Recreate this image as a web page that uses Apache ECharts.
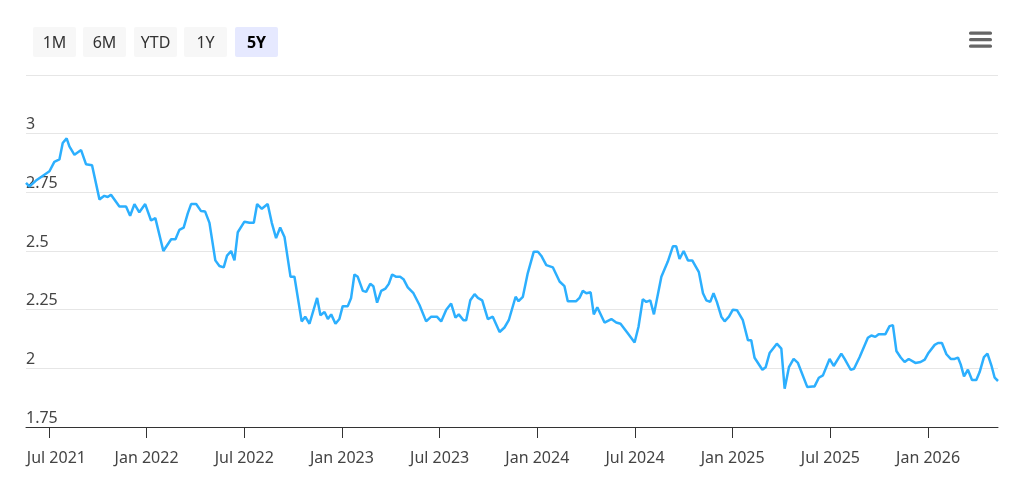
<!DOCTYPE html>
<html>
<head>
<meta charset="utf-8">
<title>5Y chart</title>
<script src="https://cdn.jsdelivr.net/npm/echarts@6/dist/echarts.min.js"></script>
<style>
  html, body { margin: 0; padding: 0; background: #fff; }
  #chart { width: 1019px; height: 492px; }
</style>
</head>
<body>
<div id="chart"></div>
<script>
// time in decimal years
const years = [
  2021.383, 2021.400, 2021.434, 2021.468, 2021.503, 2021.528, 2021.554, 2021.571, 2021.591, 2021.605,
  2021.631, 2021.665, 2021.690, 2021.721, 2021.759, 2021.784, 2021.801, 2021.818, 2021.861, 2021.895,
  2021.916, 2021.938, 2021.963, 2021.993, 2022.023, 2022.045, 2022.086, 2022.126, 2022.148, 2022.168,
  2022.190, 2022.211, 2022.228, 2022.254, 2022.279, 2022.300, 2022.322, 2022.352, 2022.373, 2022.395,
  2022.412, 2022.433, 2022.450, 2022.467, 2022.501, 2022.527, 2022.549, 2022.566, 2022.590, 2022.620,
  2022.641, 2022.663, 2022.684, 2022.706, 2022.737, 2022.757, 2022.794, 2022.812, 2022.834, 2022.873,
  2022.890, 2022.911, 2022.928, 2022.945, 2022.967, 2022.987, 2023.004, 2023.030, 2023.047, 2023.064,
  2023.081, 2023.107, 2023.124, 2023.145, 2023.161, 2023.180, 2023.201, 2023.223, 2023.240, 2023.257,
  2023.278, 2023.298, 2023.315, 2023.337, 2023.366, 2023.397, 2023.431, 2023.457, 2023.486, 2023.508,
  2023.534, 2023.559, 2023.581, 2023.598, 2023.622, 2023.636, 2023.657, 2023.679, 2023.696, 2023.718,
  2023.747, 2023.772, 2023.807, 2023.832, 2023.854, 2023.889, 2023.904, 2023.926, 2023.951, 2023.982,
  2024.003, 2024.020, 2024.046, 2024.080, 2024.114, 2024.139, 2024.156, 2024.199, 2024.216, 2024.233,
  2024.251, 2024.273, 2024.289, 2024.307, 2024.344, 2024.379, 2024.404, 2024.426, 2024.464, 2024.498,
  2024.518, 2024.540, 2024.558, 2024.578, 2024.597, 2024.635, 2024.668, 2024.694, 2024.711, 2024.728,
  2024.749, 2024.771, 2024.793, 2024.827, 2024.848, 2024.865, 2024.885, 2024.902, 2024.919, 2024.942,
  2024.959, 2024.981, 2025.001, 2025.022, 2025.052, 2025.078, 2025.095, 2025.112, 2025.152, 2025.169,
  2025.189, 2025.226, 2025.249, 2025.266, 2025.288, 2025.312, 2025.334, 2025.382, 2025.408, 2025.419,
  2025.441, 2025.462, 2025.496, 2025.517, 2025.556, 2025.573, 2025.604, 2025.621, 2025.650, 2025.692,
  2025.710, 2025.730, 2025.747, 2025.781, 2025.803, 2025.820, 2025.838, 2025.860, 2025.880, 2025.901,
  2025.935, 2025.962, 2025.983, 2026.000, 2026.034, 2026.051, 2026.071, 2026.094, 2026.116, 2026.136,
  2026.153, 2026.167, 2026.184, 2026.204, 2026.225, 2026.247, 2026.264, 2026.286, 2026.304, 2026.324,
  2026.341, 2026.358
];

const values = [
  2.79, 2.775, 2.80, 2.82, 2.84, 2.88, 2.89, 2.96, 2.98, 2.946,
  2.91, 2.93, 2.87, 2.865, 2.72, 2.735, 2.73, 2.74, 2.69, 2.69,
  2.65, 2.70, 2.665, 2.70, 2.63, 2.64, 2.50, 2.55, 2.55, 2.59,
  2.60, 2.66, 2.70, 2.70, 2.67, 2.668, 2.62, 2.46, 2.436, 2.43,
  2.48, 2.50, 2.46, 2.58, 2.625, 2.62, 2.62, 2.70, 2.68, 2.70,
  2.62, 2.555, 2.60, 2.56, 2.39, 2.39, 2.20, 2.22, 2.19, 2.30,
  2.226, 2.24, 2.21, 2.23, 2.19, 2.21, 2.265, 2.265, 2.30, 2.40,
  2.39, 2.33, 2.326, 2.36, 2.35, 2.28, 2.33, 2.34, 2.36, 2.40,
  2.39, 2.39, 2.38, 2.345, 2.32, 2.27, 2.20, 2.22, 2.22, 2.20,
  2.25, 2.276, 2.216, 2.23, 2.205, 2.205, 2.29, 2.316, 2.30, 2.29,
  2.21, 2.22, 2.155, 2.174, 2.205, 2.305, 2.286, 2.305, 2.405, 2.497,
  2.497, 2.48, 2.44, 2.43, 2.37, 2.35, 2.286, 2.286, 2.30, 2.33,
  2.32, 2.324, 2.23, 2.26, 2.195, 2.21, 2.195, 2.19, 2.148, 2.11,
  2.177, 2.295, 2.283, 2.29, 2.23, 2.39, 2.455, 2.52, 2.52, 2.466,
  2.50, 2.46, 2.46, 2.41, 2.32, 2.29, 2.283, 2.32, 2.283, 2.22,
  2.20, 2.22, 2.25, 2.248, 2.205, 2.12, 2.12, 2.045, 1.994, 2.005,
  2.065, 2.105, 2.084, 1.913, 2.005, 2.04, 2.023, 1.92, 1.923, 1.923,
  1.96, 1.97, 2.04, 2.01, 2.063, 2.04, 1.994, 1.998, 2.048, 2.13,
  2.14, 2.134, 2.145, 2.145, 2.18, 2.184, 2.074, 2.046, 2.027, 2.04,
  2.023, 2.027, 2.037, 2.063, 2.10, 2.108, 2.108, 2.06, 2.04, 2.04,
  2.046, 2.017, 1.966, 1.994, 1.95, 1.95, 1.984, 2.048, 2.063, 2.013,
  1.96, 1.946
];

const tickYears = [2021.5, 2022, 2022.5, 2023, 2023.5, 2024, 2024.5, 2025, 2025.5, 2026];
const tickLabels = ['Jul 2021', 'Jan 2022', 'Jul 2022', 'Jan 2023', 'Jul 2023',
                    'Jan 2024', 'Jul 2024', 'Jan 2025', 'Jul 2025', 'Jan 2026'];
const rangeButtons = ['1M', '6M', 'YTD', '1Y', '5Y'];
const selectedRange = '5Y';

const FONT = '"Noto Sans", "Open Sans", sans-serif';

const chart = echarts.init(document.getElementById('chart'));

// range selector buttons + menu icon, drawn as graphics
const btnX = [33, 83, 134, 184, 235];
const graphics = [];
rangeButtons.forEach((b, i) => {
  const on = b === selectedRange;
  graphics.push({
    type: 'rect',
    shape: { x: btnX[i], y: 27, width: 43, height: 30, r: 2 },
    style: { fill: on ? '#e6e9ff' : '#f7f7f7' }
  });
  graphics.push({
    type: 'text',
    style: {
      text: b, x: btnX[i] + 21.5, y: 43, align: 'center', verticalAlign: 'middle',
      font: (on ? 'bold ' : '') + '16px ' + FONT, fill: on ? '#000' : '#333'
    }
  });
});
[33, 39.5, 46].forEach(y => {
  graphics.push({
    type: 'rect',
    shape: { x: 969, y: y - 1.5, width: 23, height: 3.2, r: 1.5 },
    style: { fill: '#666' }
  });
});

chart.setOption({
  animation: false,
  backgroundColor: '#fff',
  grid: { left: 26, right: 21, top: 75, bottom: 65, containLabel: false },
  graphic: graphics,
  xAxis: {
    type: 'value',
    min: years[0],
    max: years[years.length - 1],
    axisLine: { show: true, lineStyle: { color: '#333', width: 1 } },
    axisTick: { show: true, length: 11, customValues: tickYears, lineStyle: { color: '#333' } },
    axisLabel: {
      customValues: tickYears,
      margin: 23,
      fontSize: 16,
      fontFamily: FONT,
      color: '#444',
      formatter: v => {
        const i = tickYears.findIndex(t => Math.abs(t - v) < 1e-6);
        if (i < 0) return '';
        return i === 0 ? '{first|' + tickLabels[i] + '}' : tickLabels[i];
      },
      rich: { first: { padding: [0, 0, 0, 15], fontSize: 16, fontFamily: FONT, color: '#444' } }
    },
    splitLine: { show: false }
  },
  yAxis: {
    type: 'value',
    min: 1.75,
    max: 3.25,
    interval: 0.25,
    axisLine: { show: false },
    axisTick: { show: false },
    axisLabel: {
      inside: true,
      margin: 0,
      verticalAlign: 'bottom',
      padding: [0, 0, 1, 0],
      fontSize: 16,
      fontFamily: FONT,
      color: '#444',
      formatter: v => (v >= 3.2 ? '' : String(+v.toFixed(2)))
    },
    splitLine: { show: true, lineStyle: { color: '#e6e6e6', width: 1 } }
  },
  series: [{
    type: 'line',
    data: years.map((t, i) => [t, values[i]]),
    showSymbol: false,
    lineStyle: { color: '#2caffe', width: 2.5 },
    itemStyle: { color: '#2caffe' },
    z: 1
  }]
});
</script>
</body>
</html>
